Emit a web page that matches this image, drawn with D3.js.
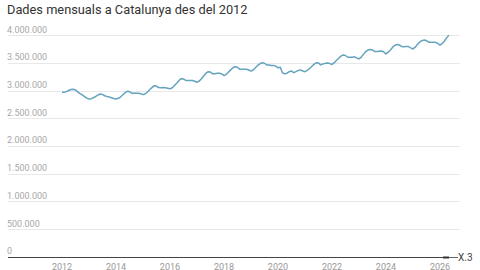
<!DOCTYPE html>
<html>
<head>
<meta charset="utf-8">
<script src="https://cdn.jsdelivr.net/npm/d3@7"></script>
<style>
    body { margin: 0; background: #fff; }
    svg { display: block; font-family: Roboto, "Noto Sans", sans-serif; }
</style>
</head>
<body>
<div id="chart"></div>
<script>
// monthly values (thousands), Jan..Dec
var y2012 = [2970, 2968, 2980, 3000, 3018, 3022, 3010, 2975, 2945, 2920, 2890, 2862];
var y2013 = [2846, 2852, 2870, 2892, 2918, 2937, 2930, 2905, 2892, 2882, 2870, 2855];
var y2014 = [2846, 2860, 2882, 2920, 2958, 2985, 2980, 2952, 2950, 2952, 2950, 2940];
var y2015 = [2925, 2942, 2972, 3012, 3052, 3087, 3080, 3052, 3050, 3052, 3050, 3040];
var y2016 = [3030, 3050, 3090, 3132, 3180, 3213, 3208, 3182, 3180, 3182, 3180, 3168];
var y2017 = [3150, 3172, 3212, 3262, 3310, 3340, 3332, 3302, 3302, 3310, 3310, 3298];
var y2018 = [3270, 3292, 3330, 3372, 3410, 3430, 3420, 3385, 3382, 3384, 3382, 3370];
var y2019 = [3350, 3370, 3410, 3452, 3482, 3500, 3492, 3462, 3460, 3452, 3450, 3440];
var y2020 = [3410, 3420, 3320, 3300, 3312, 3340, 3352, 3322, 3340, 3362, 3372, 3352];
var y2021 = [3340, 3362, 3392, 3432, 3472, 3500, 3498, 3462, 3480, 3490, 3496, 3486];
var y2022 = [3470, 3502, 3542, 3582, 3620, 3640, 3632, 3600, 3600, 3602, 3608, 3590];
var y2023 = [3570, 3602, 3652, 3700, 3730, 3740, 3732, 3702, 3702, 3710, 3712, 3698];
var y2024 = [3660, 3692, 3732, 3782, 3818, 3830, 3822, 3792, 3790, 3792, 3792, 3770];
var y2025 = [3750, 3782, 3832, 3872, 3900, 3910, 3902, 3872, 3870, 3872, 3870, 3850];
var y2026 = [3820, 3850, 3890, 3950, 4000];

var years = [2012, 2013, 2014, 2015, 2016, 2017, 2018, 2019, 2020, 2021, 2022, 2023, 2024, 2025, 2026];
var yearValues = [y2012, y2013, y2014, y2015, y2016, y2017, y2018, y2019, y2020, y2021, y2022, y2023, y2024, y2025, y2026];

var yTicks = [0, 500000, 1000000, 1500000, 2000000, 2500000, 3000000, 3500000, 4000000];
var xTickYears = [2012, 2014, 2016, 2018, 2020, 2022, 2024, 2026];
var titleText = "Dades mensuals a Catalunya des del 2012";
var endLabel = "X.3";

// build the series
var data = [];
years.forEach(function (yr, i) {
    yearValues[i].forEach(function (v, m) {
        data.push({ date: new Date(yr, m, 1), value: v * 1000 });
    });
});

var W = 480, H = 270;
var svg = d3.select("#chart").append("svg")
    .attr("width", W)
    .attr("height", H);

var x = d3.scaleTime()
    .domain([new Date(2012, 0, 1), new Date(2026, 0, 1)])
    .range([62, 440]);

var y = d3.scaleLinear()
    .domain([0, 4000000])
    .range([256.7, 35.1]);

var locale = d3.formatLocale({ decimal: ",", thousands: ".", grouping: [3], currency: ["", "€"] });
var fmt = locale.format(",d");

// title
svg.append("text")
    .attr("x", 7)
    .attr("y", 14)
    .attr("fill", "#333")
    .style("font-size", "12.8px")
    .text(titleText);

// grid lines + labels
var grid = svg.append("g");
grid.selectAll("line")
    .data(yTicks.filter(function (d) { return d > 0; }))
    .enter()
    .append("line")
    .attr("x1", 8)
    .attr("x2", 460)
    .attr("y1", function (d) { return Math.round(y(d)) + 0.5; })
    .attr("y2", function (d) { return Math.round(y(d)) + 0.5; })
    .attr("stroke", "#e8e8e8")
    .attr("stroke-width", 1);

grid.selectAll("text")
    .data(yTicks)
    .enter()
    .append("text")
    .attr("x", 7)
    .attr("y", function (d) { return y(d) - 2.5; })
    .attr("fill", "#a8a8a8")
    .style("font-size", "9px")
    .text(function (d) { return fmt(d); });

// x axis labels
svg.append("g").selectAll("text")
    .data(xTickYears)
    .enter()
    .append("text")
    .attr("x", function (d) { return x(new Date(d, 0, 1)); })
    .attr("y", 269.5)
    .attr("text-anchor", "middle")
    .attr("fill", "#999")
    .style("font-size", "9px")
    .text(function (d) { return d; });

// baseline
var y0 = Math.round(y(0)) + 0.5;
svg.append("line")
    .attr("x1", 8).attr("x2", 443)
    .attr("y1", y0).attr("y2", y0)
    .attr("stroke", "#444").attr("stroke-width", 1.2);
svg.append("line")
    .attr("x1", 443).attr("x2", 449)
    .attr("y1", y0).attr("y2", y0)
    .attr("stroke", "#333").attr("stroke-width", 2);
svg.append("line")
    .attr("x1", 449).attr("x2", 458)
    .attr("y1", y0).attr("y2", y0)
    .attr("stroke", "#666").attr("stroke-width", 1);
svg.append("text")
    .attr("x", 458)
    .attr("y", y0 + 3.5)
    .attr("fill", "#444")
    .style("font-size", "10px")
    .text(endLabel);

// the line
var line = d3.line()
    .x(function (d) { return x(d.date); })
    .y(function (d) { return y(d.value); });

svg.append("path")
    .datum(data)
    .attr("d", line)
    .attr("fill", "none")
    .attr("stroke", "#65a3be")
    .attr("stroke-width", 1.5)
    .attr("stroke-linejoin", "round");
</script>
</body>
</html>
